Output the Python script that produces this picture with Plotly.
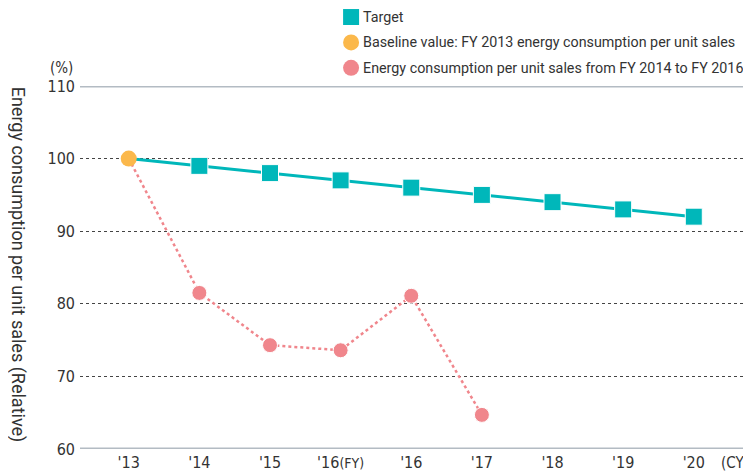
import plotly.graph_objects as go

# categories on the x axis
years = ["'13", "'14", "'15", "'16<span style='font-size:14px'>(FY)</span>", "'16", "'17", "'18", "'19", "'20"]
target = [100, 99, 98, 97, 96, 95, 94, 93, 92]
actual = [100, 81.5, 74.3, 73.6, 81.1, 64.7]
baseline = [100]
legend_items = ["Target",
                "Baseline value: FY 2013 energy consumption per unit sales",
                "Energy consumption per unit sales from FY 2014 to FY 2016"]

TEAL = "#00b7ba"
ORANGE = "#fbb84b"
PINK = "#f0868c"
TXT = "#333333"
FONT = "DejaVu Sans Condensed, Roboto, sans-serif"

xs = list(range(len(years)))

fig = go.Figure()

# target line, first point hidden under baseline dot
fig.add_trace(go.Scatter(
    x=xs, y=target, mode="lines+markers",
    line=dict(color=TEAL, width=3),
    marker=dict(symbol="square", color=TEAL, opacity=1, size=[0] + [17] * (len(target) - 1)),
    showlegend=False, hoverinfo="skip"))

# actual values, dotted
fig.add_trace(go.Scatter(
    x=xs[:len(actual)], y=actual, mode="lines+markers",
    line=dict(color=PINK, width=2.5, dash="dot"),
    marker=dict(symbol="circle", color=PINK, opacity=1, size=[0] + [15] * (len(actual) - 1)),
    showlegend=False, hoverinfo="skip"))

fig.add_trace(go.Scatter(
    x=xs[:1], y=baseline, mode="markers",
    marker=dict(symbol="circle", color=ORANGE, size=16),
    showlegend=False, hoverinfo="skip"))

# hand-made legend
for i, (name, kind, col) in enumerate(zip(legend_items, ["rect", "circle", "circle"], [TEAL, ORANGE, PINK])):
    yc = 1.190 - i * 0.070
    fig.add_shape(type=kind, xref="paper", yref="paper", xsizemode="pixel", ysizemode="pixel",
                  xanchor=0.404, yanchor=yc, x0=-8, x1=8, y0=-8, y1=8,
                  fillcolor=col, line=dict(width=0))
    fig.add_annotation(text=name, xref="paper", yref="paper", x=0.419, y=yc,
                       xanchor="left", yanchor="middle", showarrow=False,
                       font=dict(size=14.3, color=TXT, family="Roboto, sans-serif"))

# heavy top and bottom lines
for yv in (60, 110):
    fig.add_shape(type="line", xref="paper", yref="y", x0=0, x1=1, y0=yv, y1=yv,
                  line=dict(color="#b3bbc3", width=3))

fig.add_annotation(text="(%)", xref="paper", yref="paper", x=-0.027, y=1.05,
                   showarrow=False, font=dict(size=15, color=TXT, family=FONT),
                   xanchor="center", yanchor="middle")
fig.add_annotation(text="(CY)", xref="paper", yref="paper", x=0.976, y=-0.039,
                   showarrow=False, font=dict(size=15, color=TXT, family=FONT),
                   xanchor="center", yanchor="middle")
fig.add_annotation(text="Energy consumption per unit sales (Relative)", xref="paper", yref="paper",
                   x=-0.092, y=0.507, textangle=90, showarrow=False,
                   xanchor="center", yanchor="middle",
                   font=dict(size=18, color=TXT, family="Roboto, sans-serif"))

fig.update_xaxes(
    tickmode="array", tickvals=xs, ticktext=years, automargin=False,
    range=[-0.69, 8.81], showgrid=False, zeroline=False, showline=False,
    ticks="", ticklabelstandoff=2, tickfont=dict(size=16, color=TXT, family=FONT))
fig.update_yaxes(
    range=[60, 110], tickvals=[60, 70, 80, 90, 100, 110], showgrid=True, automargin=False,
    gridcolor="#444444", griddash="dot", gridwidth=1, zeroline=False,
    ticks="", ticklabelstandoff=4, tickfont=dict(size=16, color=TXT, family=FONT))

# page has an 8px body margin, so the figure is sized to fit the window
fig.update_layout(
    width=743, height=464,
    margin=dict(l=72, r=0, t=78, b=23),
    plot_bgcolor="white", paper_bgcolor="white",
    showlegend=False,
)

fig.write_html("out.html")
